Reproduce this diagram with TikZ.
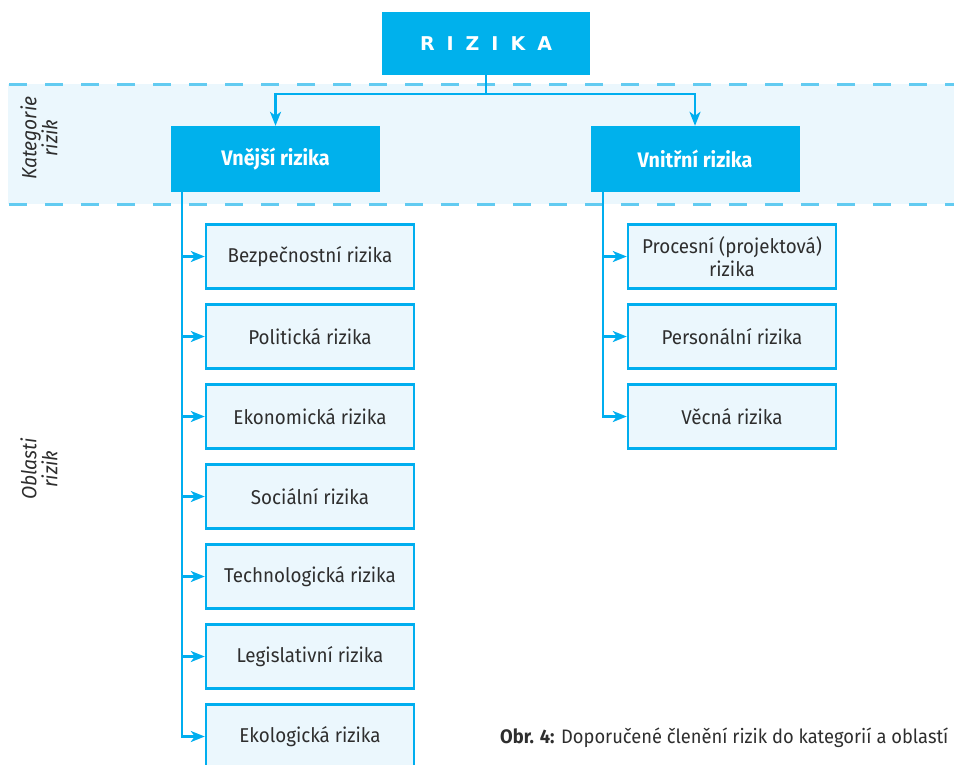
\documentclass[tikz,border=0pt]{standalone}
\usepackage{fontspec}
\setmainfont{Fira Sans}[FakeStretch=0.94]
\newfontfamily\rootfont{DejaVu Sans}
\usetikzlibrary{arrows.meta}

\definecolor{rcyan}{HTML}{00B1EC}
\definecolor{rborder}{HTML}{00AEEF}
\definecolor{rpale}{HTML}{EBF7FD}
\definecolor{rdash}{HTML}{62CBF1}
\definecolor{rtext}{HTML}{2E2E2E}

\tikzset{
  headbox/.style={rectangle, fill=rcyan, draw=none, minimum width=209pt, minimum height=66pt,
    text=white, font=\fontsize{21}{24}\selectfont\bfseries, inner sep=0pt},
  areabox/.style={rectangle, fill=rpale, draw=rborder, line width=2.4pt, minimum width=208pt,
    minimum height=64pt, text=rtext, align=center, font=\fontsize{20}{23}\selectfont, inner sep=0pt},
  conn/.style={draw=rborder, line width=2.4pt},
  tip/.style={-{Stealth[length=14pt,width=11pt,inset=4pt]}},
  dashline/.style={draw=rdash, line width=3pt, dash pattern=on 18pt off 18pt},
  sidelabel/.style={rotate=90, align=center, text=rtext, font=\fontsize{20.5}{21}\selectfont\itshape}
}

\begin{document}
\begin{tikzpicture}[x=1pt, y=-1pt]
  \useasboundingbox (0,0) rectangle (954,764);
  \clip (0,0) rectangle (954,764);

  % category band
  \fill[rpale] (8,84) rectangle (954,204);
  \draw[dashline] (9,84) -- (954,84);
  \draw[dashline] (9,204) -- (954,204);

  % side labels
  \node[sidelabel] (katlabel) at (39,138) {Kategorie\\rizik};
  \node[sidelabel] (oblabel) at (39,469) {Oblasti\\rizik};

  % root
  \node[headbox, minimum width=208pt, minimum height=63pt, font=\fontsize{19}{22}\selectfont\rootfont\bfseries]
    (root) at (486,43.5) {R\kern12pt I\kern12pt Z\kern12pt I\kern12pt K\kern12pt A};

  % categories
  \node[headbox] (vne) at (275.5,159) {Vnější rizika};
  \node[headbox] (vni) at (695,159) {Vnitřní rizika};

  % connectors root -> categories
  \coordinate (split) at (486,94);
  \draw[conn] (root.south) -- (split);
  \draw[conn, tip] (split) -| (vne.north);
  \draw[conn, tip] (split) -| (vni.north);

  % external areas
  \node[areabox] (b1) at (310,256.5) {Bezpečnostní rizika};
  \node[areabox] (b2) at (310,336.5) {Politická rizika};
  \node[areabox] (b3) at (310,416.5) {Ekonomická rizika};
  \node[areabox] (b4) at (310,496.5) {Sociální rizika};
  \node[areabox] (b5) at (310,576.5) {Technologická rizika};
  \node[areabox] (b6) at (310,656.5) {Legislativní rizika};
  \node[areabox] (b7) at (310,736.5) {Ekologická rizika};

  % internal areas
  \node[areabox] (c1) at (732,256.5) {Procesní (projektová)\\rizika};
  \node[areabox] (c2) at (732,336.5) {Personální rizika};
  \node[areabox] (c3) at (732,416.5) {Věcná rizika};

  % spines
  \coordinate (lspine) at (182,192);
  \coordinate (rspine) at (603,192);
  \foreach \b in {b1,b2,b3,b4,b5,b6,b7}
    \draw[conn, tip] (lspine) |- (\b.west);
  \foreach \c in {c1,c2,c3}
    \draw[conn, tip] (rspine) |- (\c.west);

  % caption
  \node[anchor=base west, inner sep=0pt, text=rtext, font=\fontsize{19.5}{22}\selectfont]
    (caption) at (500,743) {\textbf{Obr. 4:} Doporučené členění rizik do kategorií a oblastí};
\end{tikzpicture}
\end{document}
